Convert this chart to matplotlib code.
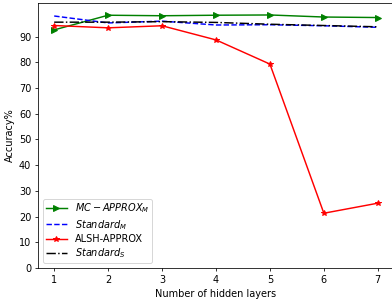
import matplotlib
matplotlib.use("Agg")
import matplotlib.pyplot as plt

layers = [1, 2, 3, 4, 5, 6, 7]
mc_approx = [92.6, 98.3, 98.1, 98.3, 98.4, 97.6, 97.4]
standard_m = [98.0, 95.3, 96.0, 94.5, 94.6, 94.2, 93.6]
alsh_approx = [94.3, 93.4, 94.2, 88.7, 79.3, 21.3, 25.2]
standard_s = [95.6, 95.6, 95.8, 95.5, 94.8, 94.3, 93.8]

# default styling, rendered at 70 dpi so everything is scaled down
fig = plt.figure(figsize=(392 / 70, 302 / 70), dpi=70)
ax = fig.add_axes([0.097, 0.1126, 0.908, 0.877])

ax.plot(layers, mc_approx, color='green', marker='>', label=r'$MC-APPROX_M$')
ax.plot(layers, standard_m, color='blue', linestyle='--', label=r'$Standard_M$')
ax.plot(layers, alsh_approx, color='red', marker='*', label='ALSH-APPROX')
ax.plot(layers, standard_s, color='black', linestyle='-.', label=r'$Standard_S$')

ax.set_xlim(0.7, 7.3)
ax.set_ylim(0, 103)
ax.set_yticks([0, 10, 20, 30, 40, 50, 60, 70, 80, 90])
ax.set_xlabel("Number of hidden layers")
ax.set_ylabel("Accuracy%")
ax.legend(loc='lower left', labelspacing=0.25, borderpad=0.3, handlelength=2.2)

fig.savefig("out.png", dpi=70)
